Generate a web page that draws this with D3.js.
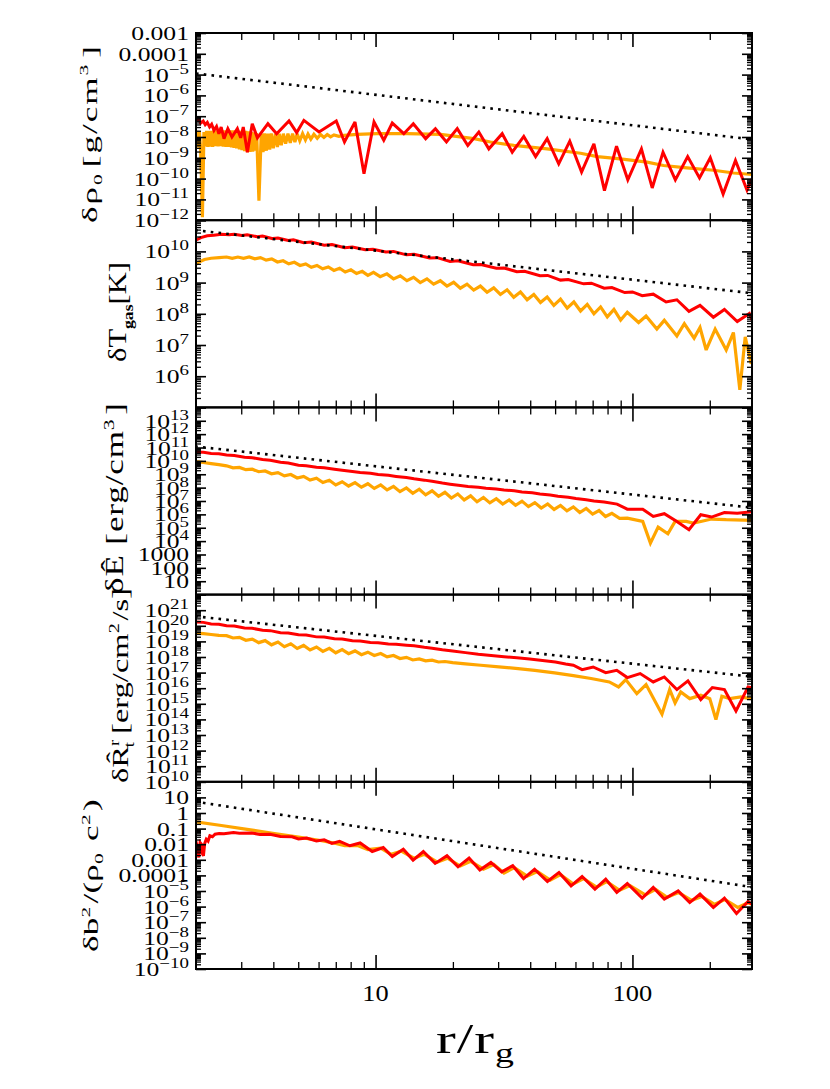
<!DOCTYPE html>
<html>
<head>
<meta charset="utf-8">
<script src="https://cdn.jsdelivr.net/npm/d3@7"></script>
<style>
  body { margin: 0; background: #fff; }
  text { font-family: "Liberation Serif", "Times New Roman", serif; fill: #000; }
</style>
</head>
<body>
<div id="chart"></div>
<script>
// x axis: r / r_g (log)
var rDomain = [2, 292];
var xMajor = [10, 100];
var xMinor = [3, 4, 5, 6, 7, 8, 9, 20, 30, 40, 50, 60, 70, 80, 90, 200];
var xLabels = ["10", "100"];

// every curve below is [log10(r/r_g), log10(value)]

// panel 1: delta rho_0
var rhoRed = [[0.300,-7.20],[0.313,-7.17],[0.319,-7.33],[0.329,-7.23],[0.337,-7.41],[0.345,-7.30],[0.354,-7.52],[0.362,-7.39],[0.371,-7.68],[0.381,-7.49],[0.390,-7.84],[0.399,-7.52],[0.410,-8.08],[0.425,-7.60],[0.441,-8.00],[0.462,-7.60],[0.475,-8.04],[0.485,-7.52],[0.501,-8.73],[0.520,-7.36],[0.540,-8.04],[0.581,-7.36],[0.615,-7.84],[0.663,-7.23],[0.693,-7.79],[0.721,-7.20],[0.780,-7.76],[0.847,-7.23],[0.879,-8.24],[0.920,-7.28],[0.955,-9.77],[0.994,-7.28],[1.032,-8.16],[1.065,-7.33],[1.110,-7.84],[1.147,-7.36],[1.195,-8.08],[1.233,-7.60],[1.276,-8.24],[1.318,-7.60],[1.359,-8.41],[1.402,-7.76],[1.441,-8.57],[1.493,-7.84],[1.532,-8.73],[1.577,-7.97],[1.623,-8.94],[1.668,-8.08],[1.713,-9.29],[1.756,-8.20],[1.802,-9.69],[1.850,-8.33],[1.891,-10.58],[1.938,-8.44],[1.982,-10.06],[2.035,-8.57],[2.077,-10.45],[2.119,-8.73],[2.167,-10.06],[2.215,-8.94],[2.261,-9.97],[2.303,-9.00],[2.353,-10.74],[2.401,-9.13],[2.446,-10.55],[2.472,-9.85]];
var rhoOrange = [[0.300,-8.48],[0.305,-7.70],[0.309,-8.50],[0.314,-7.72],[0.319,-8.57],[0.326,-11.86],[0.332,-7.76],[0.337,-8.45],[0.342,-7.70],[0.347,-8.48],[0.351,-7.71],[0.356,-8.46],[0.361,-7.70],[0.366,-8.48],[0.371,-7.68],[0.376,-8.44],[0.381,-7.69],[0.387,-8.45],[0.392,-7.68],[0.397,-8.44],[0.402,-7.68],[0.407,-8.46],[0.412,-7.68],[0.418,-8.47],[0.423,-7.68],[0.428,-8.48],[0.433,-7.68],[0.439,-8.50],[0.444,-7.68],[0.449,-8.52],[0.454,-7.68],[0.459,-8.55],[0.464,-7.69],[0.470,-8.60],[0.475,-7.71],[0.480,-8.63],[0.485,-7.71],[0.490,-8.68],[0.495,-7.71],[0.501,-8.73],[0.506,-7.73],[0.511,-8.72],[0.516,-7.76],[0.522,-8.70],[0.527,-7.78],[0.532,-8.66],[0.537,-7.81],[0.546,-11.06],[0.555,-7.84],[0.562,-8.73],[0.568,-7.83],[0.575,-8.66],[0.581,-7.84],[0.588,-8.60],[0.594,-7.83],[0.602,-8.54],[0.610,-7.84],[0.618,-8.48],[0.625,-7.84],[0.633,-8.40],[0.641,-7.84],[0.650,-8.32],[0.659,-7.84],[0.668,-8.28],[0.677,-7.84],[0.686,-8.24],[0.695,-7.84],[0.705,-8.18],[0.716,-7.84],[0.727,-8.14],[0.737,-7.86],[0.748,-8.10],[0.760,-7.87],[0.773,-8.06],[0.786,-7.88],[0.799,-8.02],[0.812,-7.88],[0.825,-7.99],[0.838,-7.90],[0.857,-7.97],[0.877,-7.92],[0.929,-7.87],[1.006,-7.84],[1.123,-7.84],[1.253,-7.87],[1.383,-8.08],[1.447,-8.24],[1.538,-8.40],[1.668,-8.57],[1.798,-8.78],[1.863,-8.94],[1.953,-9.05],[2.057,-9.21],[2.121,-9.37],[2.212,-9.48],[2.316,-9.60],[2.394,-9.73],[2.472,-9.81]];
var rhoDot = [[0.301,-4.945],[2.467,-8.12]];
var rhoTickExp = [-3, -4, -5, -6, -7, -8, -9, -10, -11, -12];

// panel 2: delta T_gas
var tgasRed = [[0.298,10.35],[0.32,10.44],[0.345,10.50],[0.37,10.52],[0.40,10.55],[0.43,10.53],[0.45,10.55],[0.48,10.51],[0.50,10.53],[0.54,10.47],[0.56,10.49],[0.60,10.41],[0.62,10.43],[0.66,10.35],[0.68,10.37],[0.72,10.28],[0.75,10.30],[0.80,10.20],[0.83,10.22],[0.88,10.12],[0.91,10.14],[0.96,10.05],[0.99,10.07],[1.04,9.98],[1.07,10.00],[1.12,9.89],[1.15,9.91],[1.21,9.79],[1.24,9.80],[1.29,9.68],[1.32,9.70],[1.38,9.57],[1.41,9.58],[1.47,9.46],[1.50,9.47],[1.55,9.35],[1.58,9.36],[1.64,9.22],[1.67,9.23],[1.72,9.08],[1.75,9.10],[1.81,8.96],[1.84,8.98],[1.89,8.82],[1.92,8.84],[1.97,8.68],[2.00,8.70],[2.038,8.58],[2.081,8.63],[2.131,8.38],[2.173,8.45],[2.220,8.08],[2.263,8.27],[2.315,7.89],[2.358,8.14],[2.408,7.75],[2.455,8.01],[2.479,7.54]];
var tgasOrange = [[0.298,9.56],[0.31,9.65],[0.334,9.74],[0.36,9.78],[0.391,9.80],[0.420,9.82],[0.442,9.78],[0.464,9.82],[0.486,9.78],[0.508,9.82],[0.530,9.76],[0.552,9.80],[0.574,9.72],[0.596,9.76],[0.618,9.66],[0.640,9.70],[0.662,9.60],[0.684,9.65],[0.706,9.55],[0.728,9.60],[0.750,9.49],[0.772,9.55],[0.794,9.44],[0.816,9.50],[0.838,9.39],[0.860,9.46],[0.882,9.34],[0.904,9.41],[0.926,9.29],[0.948,9.36],[0.970,9.23],[0.992,9.33],[1.018,9.19],[1.044,9.28],[1.070,9.12],[1.096,9.22],[1.122,9.06],[1.148,9.17],[1.174,9.00],[1.200,9.12],[1.226,8.95],[1.252,9.06],[1.278,8.89],[1.304,9.01],[1.330,8.82],[1.356,8.95],[1.382,8.76],[1.408,8.89],[1.434,8.69],[1.460,8.83],[1.486,8.62],[1.512,8.77],[1.538,8.53],[1.564,8.70],[1.590,8.45],[1.616,8.62],[1.642,8.36],[1.668,8.54],[1.694,8.27],[1.720,8.47],[1.746,8.18],[1.772,8.38],[1.798,8.09],[1.824,8.30],[1.850,8.00],[1.876,8.22],[1.902,7.90],[1.928,8.14],[1.954,7.80],[1.980,8.05],[2.024,7.72],[2.053,7.93],[2.095,7.51],[2.124,7.79],[2.173,7.29],[2.202,7.68],[2.240,7.22],[2.263,7.56],[2.287,6.84],[2.322,7.51],[2.365,6.84],[2.393,7.40],[2.418,5.56],[2.439,7.26],[2.462,6.40],[2.479,6.87]];
var tgasDot = [[0.298,10.68],[2.465,8.66]];
var tgasTickExp = [10, 9, 8, 7, 6];

// panel 3: delta E-hat
var eRed = [[0.298,10.66],[0.33,10.64],[0.36,10.56],[0.39,10.53],[0.42,10.44],[0.45,10.40],[0.49,10.28],[0.52,10.24],[0.56,10.10],[0.59,10.05],[0.63,9.90],[0.66,9.84],[0.70,9.68],[0.73,9.64],[0.77,9.52],[0.80,9.48],[0.84,9.37],[0.87,9.30],[0.91,9.21],[0.94,9.14],[0.98,9.07],[1.01,8.99],[1.05,8.92],[1.08,8.84],[1.12,8.75],[1.15,8.66],[1.19,8.56],[1.22,8.47],[1.26,8.34],[1.29,8.26],[1.33,8.16],[1.36,8.09],[1.40,8.02],[1.43,7.95],[1.47,7.89],[1.50,7.82],[1.54,7.76],[1.57,7.68],[1.61,7.61],[1.64,7.52],[1.68,7.45],[1.71,7.36],[1.75,7.28],[1.78,7.18],[1.82,7.09],[1.85,7.00],[1.89,6.92],[1.94,6.77],[1.98,6.39],[2.04,6.39],[2.081,5.85],[2.124,6.05],[2.17,5.50],[2.220,4.85],[2.266,5.97],[2.308,5.80],[2.358,6.14],[2.408,6.09],[2.479,6.22]];
var eOrange = [[0.298,9.96],[0.33,9.88],[0.36,9.80],[0.39,9.72],[0.420,9.63],[0.445,9.48],[0.470,9.51],[0.495,9.34],[0.520,9.38],[0.545,9.19],[0.570,9.25],[0.595,9.04],[0.620,9.12],[0.645,8.88],[0.670,8.98],[0.695,8.72],[0.720,8.84],[0.745,8.56],[0.770,8.70],[0.795,8.38],[0.820,8.55],[0.845,8.20],[0.870,8.44],[0.895,8.12],[0.920,8.37],[0.945,8.03],[0.970,8.29],[0.995,7.94],[1.020,8.20],[1.045,7.83],[1.070,8.09],[1.095,7.70],[1.120,7.98],[1.145,7.58],[1.170,7.88],[1.195,7.46],[1.220,7.76],[1.245,7.35],[1.270,7.65],[1.295,7.22],[1.320,7.53],[1.345,7.08],[1.370,7.39],[1.395,6.94],[1.420,7.26],[1.445,6.86],[1.470,7.17],[1.495,6.77],[1.520,7.08],[1.545,6.68],[1.570,6.99],[1.595,6.58],[1.620,6.88],[1.645,6.47],[1.670,6.78],[1.695,6.37],[1.720,6.67],[1.745,6.26],[1.770,6.56],[1.795,6.14],[1.820,6.44],[1.845,6.02],[1.870,6.29],[1.895,5.84],[1.920,6.08],[1.950,5.70],[1.980,5.72],[2.040,5.47],[2.070,3.85],[2.100,5.05],[2.138,4.55],[2.166,5.47],[2.209,5.47],[2.237,5.35],[2.266,5.47],[2.308,5.65],[2.365,5.60],[2.479,5.55]];
var eDot = [[0.298,11.08],[2.465,6.50]];
var eTickExp = [13, 12, 11, 10, 9, 8, 7, 6, 5, 4, 3, 2, 1];

// panel 4: delta R-hat^r_t
var rRed = [[0.298,20.25],[0.33,20.22],[0.36,20.12],[0.39,20.10],[0.42,20.00],[0.45,19.98],[0.49,19.86],[0.52,19.84],[0.56,19.71],[0.59,19.69],[0.63,19.56],[0.66,19.54],[0.70,19.42],[0.73,19.41],[0.77,19.29],[0.80,19.28],[0.84,19.17],[0.87,19.15],[0.91,19.04],[0.94,19.02],[0.98,18.93],[1.01,18.92],[1.05,18.84],[1.08,18.82],[1.12,18.76],[1.15,18.72],[1.19,18.62],[1.22,18.56],[1.26,18.46],[1.30,18.38],[1.35,18.28],[1.40,18.18],[1.45,18.10],[1.50,18.02],[1.55,17.95],[1.60,17.87],[1.65,17.78],[1.70,17.68],[1.74,17.55],[1.77,17.47],[1.804,17.19],[1.847,17.36],[1.896,17.00],[1.939,17.15],[1.98,16.68],[2.03,16.94],[2.081,16.40],[2.124,16.72],[2.173,15.91],[2.216,16.47],[2.266,15.27],[2.311,16.04],[2.358,15.91],[2.403,14.54],[2.45,16.08],[2.479,15.97]];
var rOrange = [[0.298,19.54],[0.33,19.50],[0.36,19.44],[0.39,19.39],[0.420,19.37],[0.445,19.22],[0.470,19.26],[0.495,19.07],[0.520,19.15],[0.545,18.92],[0.570,19.05],[0.595,18.78],[0.620,18.96],[0.645,18.66],[0.670,18.85],[0.695,18.55],[0.720,18.74],[0.745,18.45],[0.770,18.64],[0.795,18.36],[0.820,18.55],[0.845,18.27],[0.870,18.47],[0.895,18.21],[0.920,18.39],[0.945,18.15],[0.970,18.31],[0.995,18.10],[1.020,18.22],[1.045,18.01],[1.070,18.10],[1.095,17.90],[1.120,17.98],[1.145,17.81],[1.170,17.88],[1.195,17.75],[1.220,17.80],[1.245,17.68],[1.270,17.71],[1.30,17.64],[1.35,17.56],[1.41,17.47],[1.48,17.37],[1.555,17.26],[1.62,17.14],[1.697,16.98],[1.77,16.81],[1.839,16.62],[1.91,16.40],[1.946,16.08],[1.974,16.55],[2.017,15.65],[2.053,16.23],[2.115,14.33],[2.145,15.91],[2.166,15.06],[2.188,15.76],[2.223,15.33],[2.266,15.55],[2.301,15.33],[2.325,13.99],[2.348,15.48],[2.379,15.33],[2.422,15.44],[2.457,15.33],[2.479,15.48]];
var rDot = [[0.298,20.61],[2.465,16.74]];
var rTickExp = [21, 20, 19, 18, 17, 16, 15, 14, 13, 12, 11, 10];

// panel 5: delta b^2 / (rho_0 c^2)
var bRed = [[0.298,-1.63],[0.305,-2.10],[0.312,-2.85],[0.317,-1.90],[0.322,-2.00],[0.326,-2.60],[0.330,-2.74],[0.335,-1.95],[0.341,-1.68],[0.348,-1.80],[0.355,-1.46],[0.365,-1.52],[0.375,-1.36],[0.391,-1.31],[0.41,-1.33],[0.447,-1.25],[0.47,-1.30],[0.518,-1.28],[0.55,-1.38],[0.589,-1.36],[0.63,-1.50],[0.675,-1.52],[0.70,-1.66],[0.732,-1.60],[0.77,-1.80],[0.80,-1.72],[0.83,-1.95],[0.86,-1.82],[0.90,-2.10],[0.94,-1.92],[0.987,-2.47],[1.03,-2.21],[1.065,-2.79],[1.108,-2.32],[1.146,-3.02],[1.186,-2.47],[1.232,-3.23],[1.278,-2.74],[1.321,-3.45],[1.364,-2.89],[1.406,-3.66],[1.449,-3.17],[1.491,-3.77],[1.534,-3.38],[1.576,-4.20],[1.619,-3.60],[1.669,-4.39],[1.714,-3.81],[1.761,-4.67],[1.804,-4.07],[1.854,-4.88],[1.896,-4.24],[1.939,-5.09],[1.98,-4.52],[2.038,-5.46],[2.081,-4.77],[2.124,-5.52],[2.178,-4.99],[2.223,-5.74],[2.263,-5.20],[2.315,-6.06],[2.358,-5.46],[2.405,-6.44],[2.45,-5.67],[2.479,-6.01]];
var bOrange = [[0.298,-0.56],[0.40,-0.80],[0.50,-1.05],[0.60,-1.30],[0.70,-1.55],[0.78,-1.75],[0.845,-1.95],[0.88,-2.10],[0.93,-2.08],[0.97,-2.35],[1.02,-2.25],[1.06,-2.65],[1.10,-2.45],[1.15,-2.90],[1.19,-2.65],[1.24,-3.15],[1.28,-2.90],[1.33,-3.40],[1.37,-3.10],[1.42,-3.60],[1.46,-3.30],[1.50,-3.85],[1.54,-3.50],[1.59,-4.05],[1.63,-3.75],[1.68,-4.30],[1.72,-3.95],[1.77,-4.55],[1.81,-4.20],[1.86,-4.75],[1.90,-4.40],[1.95,-4.95],[1.99,-4.65],[2.05,-5.25],[2.09,-4.90],[2.135,-5.40],[2.18,-5.10],[2.23,-5.60],[2.27,-5.35],[2.32,-5.85],[2.36,-5.55],[2.41,-6.05],[2.45,-5.75],[2.479,-5.95]];
var bDot = [[0.298,0.73],[2.465,-4.75]];
var bTickExp = [1, 0, -1, -2, -3, -4, -5, -6, -7, -8, -9, -10];

var panels = [
  { domain: [1e-12, 1e-3], red: rhoRed, orange: rhoOrange, dot: rhoDot, ticks: rhoTickExp },
  { domain: [1e5, 1e11], red: tgasRed, orange: tgasOrange, dot: tgasDot, ticks: tgasTickExp },
  { domain: [1, 1e14], red: eRed, orange: eOrange, dot: eDot, ticks: eTickExp },
  { domain: [1e10, 1e22], red: rRed, orange: rOrange, dot: rDot, ticks: rTickExp },
  { domain: [1e-10, 1e2], red: bRed, orange: bOrange, dot: bDot, ticks: bTickExp }
];

var svgW = 830, svgH = 1089;
var left = 196, right = 752, top0 = 33, panelH = 187.2;

var svg = d3.select("#chart").append("svg")
  .attr("width", svgW)
  .attr("height", svgH);

var x = d3.scaleLog().domain(rDomain).range([left, right]);

function minorTicks(domain) {
  var out = [];
  var e0 = Math.round(Math.log10(domain[0])), e1 = Math.round(Math.log10(domain[1]));
  for (var e = e0; e < e1; e++) {
    for (var k = 2; k < 10; k++) out.push(k * Math.pow(10, e));
  }
  return out;
}
function majorTicks(domain) {
  var out = [];
  var e0 = Math.round(Math.log10(domain[0])), e1 = Math.round(Math.log10(domain[1]));
  for (var e = e0; e <= e1; e++) out.push(Math.pow(10, e));
  return out;
}

function tickLabel(sel, e) {
  var plain = { 3: "1000", 2: "100", 1: "10", 0: "1", "-1": "0.1", "-2": "0.01", "-3": "0.001", "-4": "0.0001" };
  if (plain[e] !== undefined) {
    sel.text(plain[e]);
  } else {
    sel.append("tspan").text("10");
    sel.append("tspan").attr("dy", -8).attr("font-size", 14)
      .text(e < 0 ? "\u2212" + (-e) : String(e));
  }
}

function styleAxis(g, w) {
  g.select(".domain").remove();
  g.selectAll("line").attr("stroke", "#000").attr("stroke-width", w);
}

panels.forEach(function (p, i) {
  var top = top0 + i * panelH;
  var bot = top + panelH;
  var y = d3.scaleLog().domain(p.domain).range([bot, top]);
  var g = svg.append("g");

  svg.append("clipPath").attr("id", "clip" + i)
    .append("rect")
    .attr("x", left).attr("y", top)
    .attr("width", right - left).attr("height", panelH);

  var line = d3.line()
    .x(d => x(Math.pow(10, d[0])))
    .y(d => y(Math.pow(10, d[1])));

  var lines = g.append("g").attr("clip-path", "url(#clip" + i + ")");
  lines.append("path").datum(p.orange)
    .attr("d", line).attr("fill", "none")
    .attr("stroke", "#ffa500").attr("stroke-width", 3.2)
    .attr("stroke-linejoin", "miter").attr("stroke-miterlimit", 3);
  lines.append("path").datum(p.red)
    .attr("d", line).attr("fill", "none")
    .attr("stroke", "#ff0000").attr("stroke-width", 3)
    .attr("stroke-linejoin", "miter").attr("stroke-miterlimit", 3);
  lines.append("path").datum(p.dot)
    .attr("d", line).attr("fill", "none")
    .attr("stroke", "#000").attr("stroke-width", 2.6)
    .attr("stroke-dasharray", "2.6,5.2");

  // ticks point inward on all four sides
  var yMaj = majorTicks(p.domain), yMin = minorTicks(p.domain);
  styleAxis(g.append("g").attr("transform", `translate(${left},0)`)
    .call(d3.axisRight(y).tickValues(yMaj).tickSize(10).tickFormat("")), 1.6);
  styleAxis(g.append("g").attr("transform", `translate(${left},0)`)
    .call(d3.axisRight(y).tickValues(yMin).tickSize(5).tickFormat("")), 1.3);
  styleAxis(g.append("g").attr("transform", `translate(${right},0)`)
    .call(d3.axisLeft(y).tickValues(yMaj).tickSize(10).tickFormat("")), 1.6);
  styleAxis(g.append("g").attr("transform", `translate(${right},0)`)
    .call(d3.axisLeft(y).tickValues(yMin).tickSize(5).tickFormat("")), 1.3);
  styleAxis(g.append("g").attr("transform", `translate(0,${top})`)
    .call(d3.axisBottom(x).tickValues(xMajor).tickSize(14).tickFormat("")), 1.6);
  styleAxis(g.append("g").attr("transform", `translate(0,${top})`)
    .call(d3.axisBottom(x).tickValues(xMinor).tickSize(7).tickFormat("")), 1.3);
  styleAxis(g.append("g").attr("transform", `translate(0,${bot})`)
    .call(d3.axisTop(x).tickValues(xMajor).tickSize(14).tickFormat("")), 1.6);
  styleAxis(g.append("g").attr("transform", `translate(0,${bot})`)
    .call(d3.axisTop(x).tickValues(xMinor).tickSize(7).tickFormat("")), 1.3);

  g.append("rect")
    .attr("x", left).attr("y", top)
    .attr("width", right - left).attr("height", panelH)
    .attr("fill", "none").attr("stroke", "#000").attr("stroke-width", 2);

  // y tick labels: the figure's glyphs are wide, so stretch them sideways
  p.ticks.forEach(function (e) {
    var t = g.append("text")
      .attr("transform", `translate(189,${y(Math.pow(10, e)) + 7}) scale(1.35,1)`)
      .attr("text-anchor", "end")
      .attr("font-size", 19);
    tickLabel(t, e);
  });
});

// x tick labels under the last panel
var bottomY = top0 + 5 * panelH;
xMajor.forEach(function (v, i) {
  svg.append("text")
    .attr("transform", `translate(${x(v)},${bottomY + 32}) scale(1.15,1)`)
    .attr("text-anchor", "middle")
    .attr("font-size", 23)
    .text(xLabels[i]);
});

// fit a label into a box measured on the figure; spread letters a little
// first so the glyphs are not stretched too much
function fitText(t, box, rotate) {
  var len = rotate ? box[3] - box[2] : box[1] - box[0];
  var thick = rotate ? box[1] - box[0] : box[3] - box[2];
  var bb = t.node().getBBox();
  var n = t.text().length;
  if (len / bb.width > 1.35) {
    t.attr("letter-spacing", (len / 1.35 - bb.width) / n);
    bb = t.node().getBBox();
  }
  var cx = (box[0] + box[1]) / 2, cy = (box[2] + box[3]) / 2;
  var sx = len / bb.width, sy = thick / bb.height;
  var rot = rotate ? " rotate(-90)" : "";
  t.attr("transform", `translate(${cx},${cy})${rot} scale(${sx},${sy}) translate(${-(bb.x + bb.width / 2)},${-(bb.y + bb.height / 2)})`);
}

function sub(t, s, size) { t.append("tspan").attr("dy", 6).attr("font-size", size || 16).text(s); t.append("tspan").attr("dy", -6).text("\u200a"); }
function sup(t, s, size) { t.append("tspan").attr("dy", -10).attr("font-size", size || 16).text(s); t.append("tspan").attr("dy", 10).text("\u200a"); }

// y titles
var t1 = svg.append("text").attr("font-size", 26);
t1.append("tspan").text("\u03b4\u03c1");
sub(t1, "0");
t1.append("tspan").text("[g/cm");
sup(t1, "3");
t1.append("tspan").text("]");
fitText(t1, [77, 104, 44, 223], true);

var t2 = svg.append("text").attr("font-size", 26);
t2.append("tspan").text("\u03b4T");
t2.append("tspan").attr("dy", 7).attr("font-size", 15).attr("font-weight", "bold").text("gas");
t2.append("tspan").attr("dy", -7).text("[K]");
fitText(t2, [104, 136, 262, 362], true);

var t3 = svg.append("text").attr("font-size", 26);
t3.append("tspan").text("\u03b4\u00ca [erg/cm");
sup(t3, "3");
t3.append("tspan").text("]");
fitText(t3, [101, 129, 402, 594], true);

var t4 = svg.append("text").attr("font-size", 26);
t4.append("tspan").text("\u03b4R\u0302");
t4.append("tspan").attr("dy", -10).attr("font-size", 15).text("r");
t4.append("tspan").attr("dx", -6).attr("dy", 17).attr("font-size", 15).text("t");
t4.append("tspan").attr("dy", -7).text(" [erg/cm");
sup(t4, "2");
t4.append("tspan").text("/s]");
fitText(t4, [106, 137, 588, 783], true);

var t5 = svg.append("text").attr("font-size", 26);
t5.append("tspan").text("\u03b4b");
sup(t5, "2");
t5.append("tspan").text("/(\u03c1");
sub(t5, "0");
t5.append("tspan").text(" c");
sup(t5, "2");
t5.append("tspan").text(")");
fitText(t5, [79, 105, 799, 952], true);

// x title
var tx = svg.append("text").attr("font-size", 44);
tx.append("tspan").text("r/r");
tx.append("tspan").attr("dy", 10).attr("font-size", 28).text("g");
fitText(tx, [436, 515, 1016, 1068], false);
</script>
</body>
</html>
